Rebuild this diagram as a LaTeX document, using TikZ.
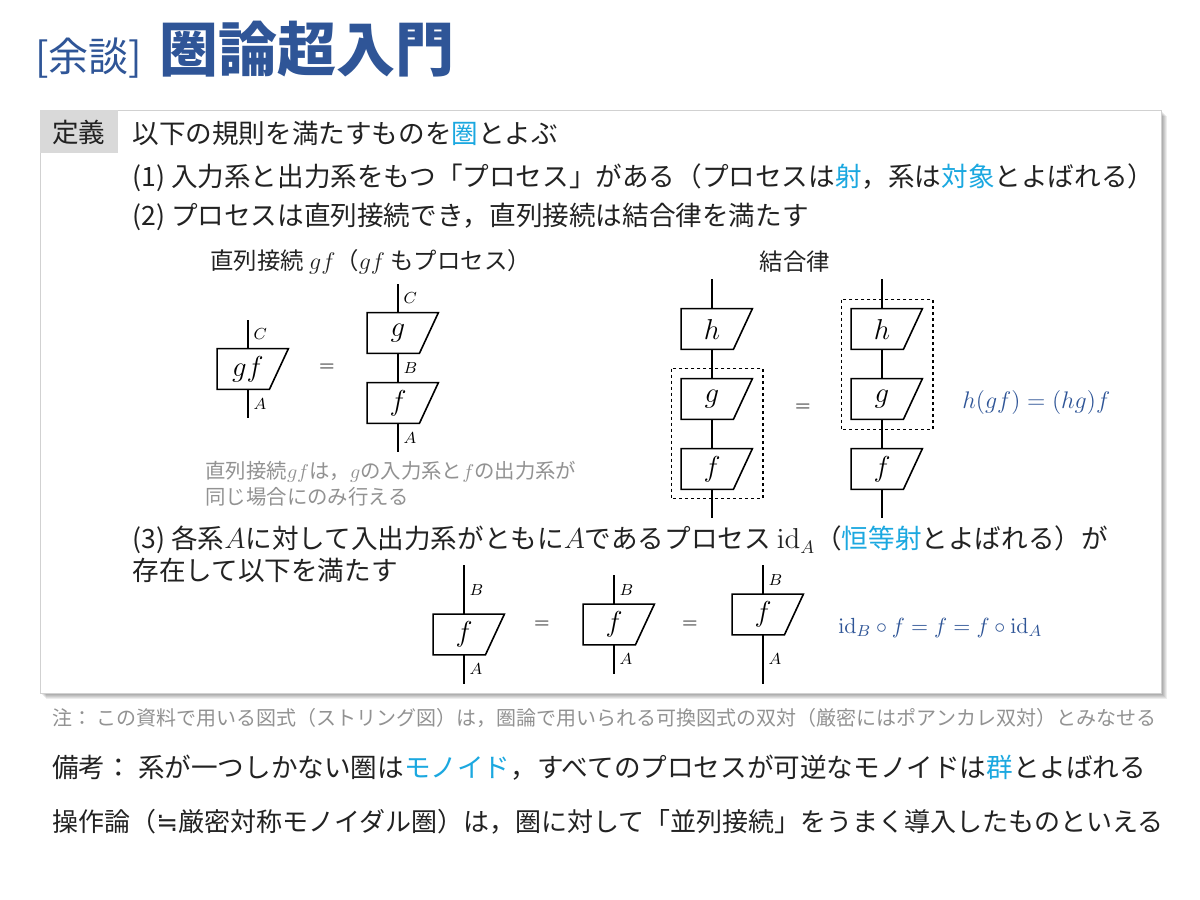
\documentclass[tikz,border=0pt]{standalone}
\usepackage[no-math]{fontspec}
\setmainfont{Noto Sans CJK JP}
\newfontfamily\symfont{DejaVu Sans}
\usepackage{xcolor}
\usepackage{amsmath}
\usetikzlibrary{calc}

\definecolor{ink}{HTML}{222222}
\definecolor{cy}{HTML}{1BA8E0}
\definecolor{navy}{HTML}{2F5597}
\definecolor{note}{HTML}{929292}
\definecolor{lbl}{HTML}{D9D9D9}
\newcommand{\hl}[1]{\textcolor{cy}{#1}}

\begin{document}
\begin{tikzpicture}[x=0.5pt, y=-0.5pt, every node/.style={inner sep=0pt},
    txt/.style={anchor=west, text=ink, font=\fontsize{13.3}{15}\selectfont},
    sub/.style={anchor=west, text=ink, font=\fontsize{11.7}{13}\selectfont},
    gray note/.style={anchor=west, text=note, font=\fontsize{10.2}{12}\selectfont},
    eqn/.style={anchor=west, text=navy, font=\fontsize{12.5}{14}\selectfont},
    proc/.style={minimum width=30.5pt, minimum height=20pt, font=\fontsize{13.5}{14}\selectfont},
    procline/.style={line width=0.8pt},
    wire/.style={line width=0.6pt},
    obj/.style={right=2.5pt, font=\fontsize{8.5}{9}\selectfont},
    grp/.style={dash pattern=on 1.5pt off 1.5pt, line width=0.6pt}]
    \useasboundingbox[fill=white] (0,0) rectangle (1200,900);

    % Title
    \node[anchor=base west, text=navy, font=\fontsize{20}{22}\selectfont] (aside) at (35,71) {[余談]};
    \node[anchor=base west, text=navy, font=\fontsize{29.5}{31}\selectfont\bfseries] (title) at (159,71) {圏論超入門};

    % Definition frame with shadow
    \foreach \i in {1,...,6}
        \fill[black, opacity=0.07] (40+\i,110+\i) rectangle (1161+\i,693+\i);
    \draw[fill=white, draw=black!18, line width=0.5pt] (40,110) rectangle (1161,693);
    \fill[lbl] (40,110) rectangle (118,153);
    \node[text=ink, font=\fontsize{13.3}{15}\selectfont] (defn) at (79,132) {定義};

    % Rules
    \node[txt] (rule0) at (132,133) {以下の規則を満たすものを\hl{圏}とよぶ};
    \node[txt] (rule1) at (132,178) {(1) 入力系と出力系をもつ「プロセス」がある（プロセスは\hl{射}，系は\hl{対象}とよばれる）};
    \node[txt] (rule2) at (132,217) {(2) プロセスは直列接続でき，直列接続は結合律を満たす};
    \node[sub] (serial) at (210,262) {直列接続 $gf$（$gf$ もプロセス）};
    \node[text=ink, font=\fontsize{11.7}{13}\selectfont] (assoc) at (795,262) {結合律};

    % Serial composition
    \node[proc] (gf) at (248,369) {$gf$};
    \coordinate (gfT) at (248,320);
    \coordinate (gfB) at (248,418);
    \draw[wire] (gfT) -- node[obj] (oC1) {$C$} (gf.north);
    \draw[wire] (gf.south) -- node[obj] (oA1) {$A$} (gfB);
    \node[font=\fontsize{10}{10}\selectfont] (eq1) at (327,368) {$=$};
    \node[proc] (g1) at (398,333) {$g$};
    \node[proc] (f1) at (398,403) {$f$};
    \coordinate (g1T) at (398,284);
    \coordinate (f1B) at (398,452);
    \draw[wire] (g1T) -- node[obj] (oC2) {$C$} (g1.north);
    \draw[wire] (g1.south) -- node[obj] (oB2) {$B$} (f1.north);
    \draw[wire] (f1.south) -- node[obj] (oA2) {$A$} (f1B);
    \node[gray note] (cond1) at (205,472) {直列接続$gf$は，$g$の入力系と$f$の出力系が};
    \node[gray note] (cond2) at (205,497) {同じ場合にのみ行える};

    % Associativity
    \node[proc] (h2) at (712,329) {$h$};
    \node[proc] (g2) at (712,399) {$g$};
    \node[proc] (f2) at (712,469) {$f$};
    \coordinate (h2T) at (712,279);
    \coordinate (f2B) at (712,518);
    \draw[wire] (h2T) -- (h2.north);
    \draw[wire] (h2.south) -- (g2.north);
    \draw[wire] (g2.south) -- (f2.north);
    \draw[wire] (f2.south) -- (f2B);
    \draw[grp] ($(g2.north west)+(-10,-10)$) rectangle ($(f2.south east)+(20,9)$);
    \node[font=\fontsize{10}{10}\selectfont] (eq2) at (803,408) {$=$};
    \node[proc] (h3) at (882,329) {$h$};
    \node[proc] (g3) at (882,399) {$g$};
    \node[proc] (f3) at (882,469) {$f$};
    \coordinate (h3T) at (882,279);
    \coordinate (f3B) at (882,518);
    \draw[wire] (h3T) -- (h3.north);
    \draw[wire] (h3.south) -- (g3.north);
    \draw[wire] (g3.south) -- (f3.north);
    \draw[wire] (f3.south) -- (f3B);
    \draw[grp] ($(h3.north west)+(-10,-9)$) rectangle ($(g3.south east)+(20,10)$);
    \node[eqn] (assoclaw) at (962,402) {$h(gf)=(hg)f$};

    % Identity
    \node[txt] (rule3) at (132,540) {(3) 各系$A$に対して入出力系がともに$A$であるプロセス $\mathrm{id}_A$（\hl{恒等射}とよばれる）が};
    \node[txt] (rule3b) at (132,570) {存在して以下を満たす};
    \node[proc] (i1) at (464,634.5) {$f$};
    \node[proc] (i2) at (614,624.5) {$f$};
    \node[proc] (i3) at (763,614.5) {$f$};
    \coordinate (i1T) at (464,565);
    \coordinate (i1B) at (464,684);
    \coordinate (i2T) at (614,575);
    \coordinate (i2B) at (614,674);
    \coordinate (i3T) at (763,565);
    \coordinate (i3B) at (763,684);
    \draw[wire] (i1T) -- node[obj] (oB3) {$B$} (i1.north);
    \draw[wire] (i1.south) -- node[obj] (oA3) {$A$} (i1B);
    \draw[wire] (i2T) -- node[obj] (oB4) {$B$} (i2.north);
    \draw[wire] (i2.south) -- node[obj] (oA4) {$A$} (i2B);
    \draw[wire] (i3T) -- node[obj] (oB5) {$B$} (i3.north);
    \draw[wire] (i3.south) -- node[obj] (oA5) {$A$} (i3B);
    \node[font=\fontsize{10}{10}\selectfont] (eq3) at (542,625) {$=$};
    \node[font=\fontsize{10}{10}\selectfont] (eq4) at (690,625) {$=$};
    \node[eqn, font=\fontsize{11.2}{13}\selectfont] (idlaw) at (838,628) {$\mathrm{id}_B\circ f=f=f\circ\mathrm{id}_A$};

    % Process boxes
    \foreach \n in {gf,g1,f1,h2,g2,f2,h3,g3,f3,i1,i2,i3}
        \draw[procline] (\n.north west) -- ($(\n.north east)+(9.5,0)$) -- ($(\n.south east)+(-9.5,0)$) -- (\n.south west) -- cycle;

    % Notes below
    \node[gray note, font=\fontsize{10}{12}\selectfont] (footnote) at (52,718) {注： この資料で用いる図式（ストリング図）は，圏論で用いられる可換図式の双対（厳密にはポアンカレ双対）とみなせる};
    \node[txt] (remark1) at (52,768) {備考： 系が一つしかない圏は\hl{モノイド}，すべてのプロセスが可逆なモノイドは\hl{群}とよばれる};
    \node[txt, font=\fontsize{13}{15}\selectfont] (remark2) at (52,822) {操作論（{\symfont ≒}厳密対称モノイダル圏）は，圏に対して「並列接続」をうまく導入したものといえる};
\end{tikzpicture}
\end{document}
